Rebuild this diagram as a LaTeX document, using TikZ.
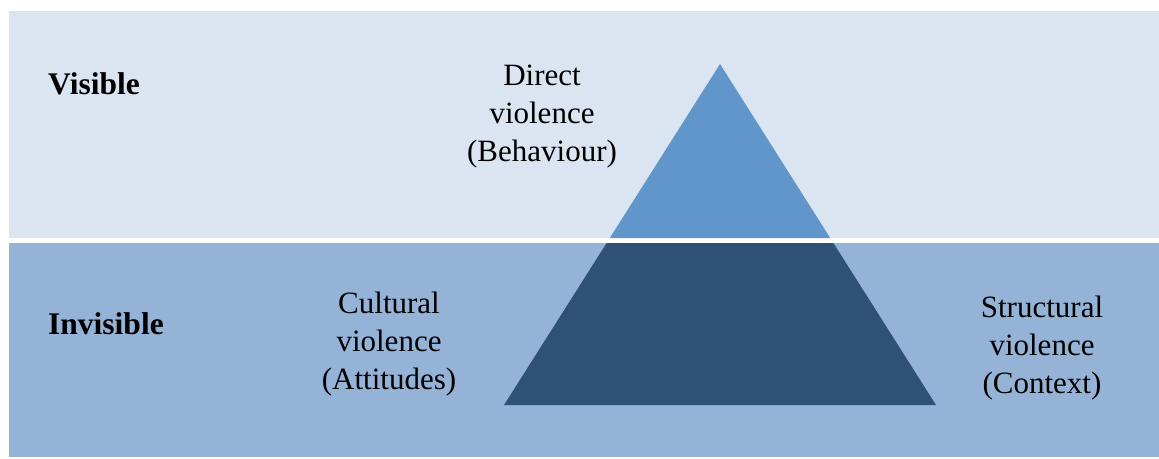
\documentclass[tikz,border=0pt]{standalone}
\usepackage{fontspec}
\setmainfont{Liberation Serif}
\usetikzlibrary{calc}

\definecolor{skyband}{RGB}{219,229,241}
\definecolor{seaband}{RGB}{149,179,215}
\definecolor{tiplight}{RGB}{96,150,201}
\definecolor{basedark}{RGB}{46,81,117}

\begin{document}
\begin{tikzpicture}[x=1pt,y=-1pt,
    label text/.style={font=\fontsize{31}{38}\selectfont, align=center, anchor=base, inner sep=0pt},
    side text/.style={font=\fontsize{31.5}{36}\selectfont\bfseries, anchor=base west, inner sep=0pt}]

  % Picture frame
  \useasboundingbox (0,0) rectangle (1159,458);

  % Slope of the triangle sides (x per y)
  \def\s{0.6334}

  % Points of the triangle
  \coordinate (A) at (720,64);
  \coordinate (UL) at ({720-\s*(238-64)},238);
  \coordinate (UR) at ({720+\s*(238-64)},238);
  \coordinate (LL) at ({720-\s*(243-64)},243);
  \coordinate (LR) at ({720+\s*(243-64)},243);
  \coordinate (BL) at ({720-\s*(405-64)},405);
  \coordinate (BR) at ({720+\s*(405-64)},405);

  % Bands
  \fill[skyband] (9,11) rectangle (1159,238);
  \fill[seaband] (9,243) rectangle (1159,457);

  % Tip and base of the triangle
  \fill[tiplight] (A) -- (UR) -- (UL) -- cycle;
  \fill[basedark] (LL) -- (LR) -- (BR) -- (BL) -- cycle;

  % Band labels
  \node[side text] (visible) at (48,94) {Visible};
  \node[side text] (invisible) at (48,334) {Invisible};

  % Violence labels (anchored at the last line)
  \node[label text] (direct) at (542,161) {Direct\\violence\\(Behaviour)};
  \node[label text] (cultural) at (389,389) {Cultural\\violence\\(Attitudes)};
  \node[label text] (structural) at (1042,393) {Structural\\violence\\(Context)};

\end{tikzpicture}
\end{document}
